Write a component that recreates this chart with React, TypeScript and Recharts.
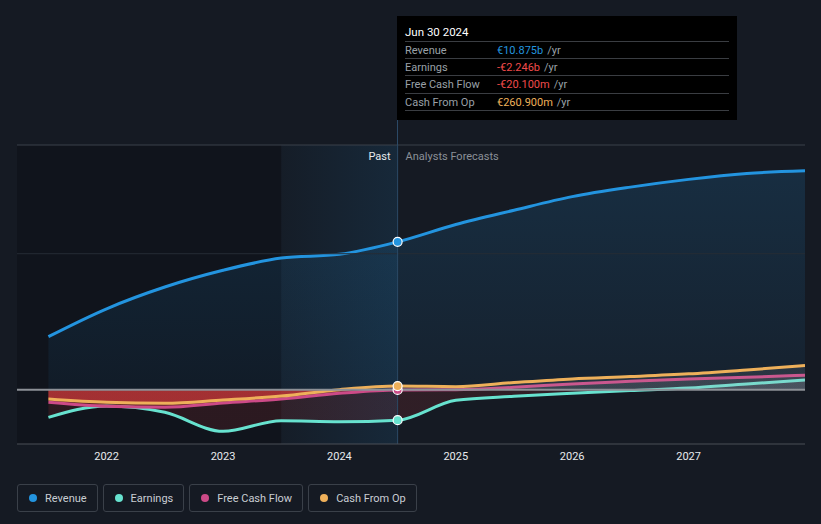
import React from "react";
import {
  ComposedChart,
  Area,
  XAxis,
  YAxis,
  ReferenceLine,
  ReferenceArea,
  ReferenceDot,
} from "recharts";

// values in € billions, half-year steps
const years = [2021.5, 2022, 2022.5, 2023, 2023.5, 2024, 2024.5, 2025, 2025.5, 2026, 2026.5, 2027, 2027.5, 2028];
const revenue = [3.9, 5.95, 7.55, 8.78, 9.68, 9.96, 10.875, 12.15, 13.2, 14.2, 14.9, 15.47, 15.9, 16.1];
const earnings = [-2.04, -1.2, -1.67, -3.07, -2.29, -2.36, -2.246, -0.78, -0.49, -0.27, -0.07, 0.12, 0.42, 0.71];
const freeCashFlow = [-0.93, -1.23, -1.3, -0.98, -0.69, -0.27, -0.0201, -0.01, 0.17, 0.42, 0.61, 0.79, 0.91, 1.06];
const cashFromOp = [-0.69, -0.93, -1.0, -0.76, -0.47, 0.0, 0.2609, 0.22, 0.52, 0.79, 0.96, 1.16, 1.45, 1.77];

const xTicks = [2022, 2023, 2024, 2025, 2026, 2027];
const yLabels = [
  { value: 18, text: "€18b" },
  { value: 0, text: "€0" },
  { value: -4, text: "-€4b" },
];
const xDomain = [2021.23, 2028];
const yDomain = [-4, 18];
const pastStart = 2023.5;
const nowX = 2024.5;
const nowLabel = "Jun 30 2024";

const series = [
  { key: "revenue", name: "Revenue", color: "#2394df", values: revenue },
  { key: "earnings", name: "Earnings", color: "#67e2cf", values: earnings },
  { key: "fcf", name: "Free Cash Flow", color: "#cc4a87", values: freeCashFlow },
  { key: "cfo", name: "Cash From Op", color: "#eeb05a", values: cashFromOp },
];

const data = years.map((x, i) => ({
  x,
  revenue: revenue[i],
  earnings: earnings[i],
  fcf: freeCashFlow[i],
  cfo: cashFromOp[i],
}));

const nowIndex = years.indexOf(nowX);

const splitOffset = (vals: number[]) => {
  const max = Math.max(...vals, 0);
  const min = Math.min(...vals, 0);
  if (max <= 0) return 0;
  if (min >= 0) return 1;
  return max / (max - min);
};

const fmt = (v: number) => {
  const sign = v < 0 ? "-" : "";
  const a = Math.abs(v);
  if (a < 1) return `${sign}€${(a * 1000).toFixed(3)}m`;
  return `${sign}€${a.toFixed(3)}b`;
};

const valueColor = (key: string, v: number) => {
  if (v < 0) return "#f04b4b";
  if (key === "revenue") return "#2394df";
  return "#eeb05a";
};

const FONT = "Roboto, 'Noto Sans', sans-serif";

const YTick = (props: any) => {
  const { y, payload } = props;
  const item = yLabels.find((l) => l.value === payload.value);
  return (
    <text x={24} y={y - 8} fill="#e8eaed" fontSize={11} fontFamily={FONT}>
      {item ? item.text : ""}
    </text>
  );
};

const NowLabel = (props: any) => {
  const { viewBox } = props;
  return (
    <g fontFamily={FONT} fontSize={11}>
      <text x={viewBox.x - 7} y={viewBox.y + 15} textAnchor="end" fill="#e8eaed">
        Past
      </text>
      <text x={viewBox.x + 8} y={viewBox.y + 15} fill="#8b9098">
        Analysts Forecasts
      </text>
    </g>
  );
};

export default function App() {
  return (
    <div style={{ position: "relative", width: 821, height: 524, background: "#151a23", fontFamily: FONT }}>
      <style>{`body{margin:0;background:#151a23}`}</style>
      <ComposedChart
        width={821}
        height={470}
        data={data}
        margin={{ top: 145, right: 16, bottom: 0, left: 17 }}
      >
        <defs>
          <linearGradient id="revFill" x1="0" y1="0" x2="0" y2="1">
            <stop offset="0%" stopColor="#2394df" stopOpacity={0.16} />
            <stop offset="100%" stopColor="#2394df" stopOpacity={0.06} />
          </linearGradient>
          <linearGradient id="pastGlow" x1="0" y1="0" x2="1" y2="0">
            <stop offset="0%" stopColor="#2394df" stopOpacity={0.05} />
            <stop offset="100%" stopColor="#2394df" stopOpacity={0.24} />
          </linearGradient>
          {series.slice(1).map((s, i) => {
            const off = splitOffset(s.values);
            const op = [0.13, 0.28, 0.52][i];
            return (
              <linearGradient key={s.key} id={`fill-${s.key}`} x1="0" y1="0" x2="0" y2="1">
                <stop offset={off} stopColor="#b8bcc4" stopOpacity={0.12} />
                <stop offset={off} stopColor="#e23c3c" stopOpacity={op} />
              </linearGradient>
            );
          })}
        </defs>
        <XAxis
          dataKey="x"
          type="number"
          domain={xDomain}
          ticks={xTicks}
          allowDataOverflow
          height={26}
          axisLine={{ stroke: "#4a4f57" }}
          tickLine={false}
          tick={{ fill: "#e8eaed", fontSize: 11, fontFamily: FONT }}
        />
        <YAxis
          type="number"
          domain={yDomain}
          ticks={yLabels.map((l) => l.value)}
          width={0}
          axisLine={false}
          tickLine={false}
          tick={<YTick />}
        />
        <ReferenceArea x1={xDomain[0]} x2={pastStart} fill="#000000" fillOpacity={0.2} stroke="none" />
        <ReferenceArea x1={pastStart} x2={nowX} fill="url(#pastGlow)" stroke="none" />
        <ReferenceLine y={18} stroke="#3b414a" strokeWidth={1} />
        <ReferenceLine y={10} stroke="#262c35" strokeWidth={1} />
        <Area
          type="monotone"
          dataKey="revenue"
          stroke="#2394df"
          strokeWidth={3}
          fill="url(#revFill)"
          fillOpacity={1}
          isAnimationActive={false}
          dot={false}
          activeDot={false}
        />
        {series.slice(1).map((s) => (
          <Area
            key={s.key}
            type="monotone"
            dataKey={s.key}
            stroke={s.color}
            strokeWidth={3}
            fill={`url(#fill-${s.key})`}
            fillOpacity={1}
            isAnimationActive={false}
            dot={false}
            activeDot={false}
          />
        ))}
        <ReferenceLine y={0} stroke="#8d9197" strokeWidth={2} />
        <ReferenceLine x={nowX} stroke="#2b4966" strokeWidth={1} label={<NowLabel />} />
        {series.map((s) => (
          <ReferenceDot
            key={s.key}
            x={nowX}
            y={s.values[nowIndex]}
            r={4.5}
            fill={s.color}
            stroke="#ffffff"
            strokeWidth={1.2}
          />
        ))}
      </ComposedChart>

      {/* tooltip box */}
      <div style={{ position: "absolute", left: 397, top: 119, width: 1, height: 26, background: "#2b4966" }} />
      <div
        style={{
          position: "absolute",
          left: 397,
          top: 16,
          width: 340,
          height: 104,
          boxSizing: "border-box",
          background: "#000000",
          padding: "8px 8px 0 8px",
          fontSize: 11,
          lineHeight: "17px",
        }}
      >
        <div style={{ color: "#ffffff", fontSize: 11.5, height: 17.5, boxSizing: "border-box", borderBottom: "1px solid #3a3d42" }}>
          {nowLabel}
        </div>
        {series.map((s) => {
          const v = s.values[nowIndex];
          return (
            <div
              key={s.key}
              style={{ display: "flex", height: 17.4, boxSizing: "border-box", borderBottom: "1px solid #3a3d42" }}
            >
              <span style={{ width: 92, color: "#9aa0a8" }}>{s.name}</span>
              <span style={{ color: valueColor(s.key, v) }}>{fmt(v)}</span>
              <span style={{ color: "#9aa0a8", marginLeft: 4 }}>/yr</span>
            </div>
          );
        })}
      </div>

      {/* legend */}
      <div style={{ display: "flex", gap: 5, marginLeft: 17, marginTop: 14 }}>
        {series.map((s) => (
          <div
            key={s.key}
            style={{
              display: "flex",
              alignItems: "center",
              height: 28,
              boxSizing: "border-box",
              border: "1px solid #3a4049",
              borderRadius: 3,
              padding: "0 10px 0 11px",
              fontSize: 11,
              color: "#c9cdd3",
            }}
          >
            <span
              style={{
                width: 8,
                height: 8,
                borderRadius: "50%",
                background: s.color,
                marginRight: 8,
              }}
            />
            {s.name}
          </div>
        ))}
      </div>
    </div>
  );
}
